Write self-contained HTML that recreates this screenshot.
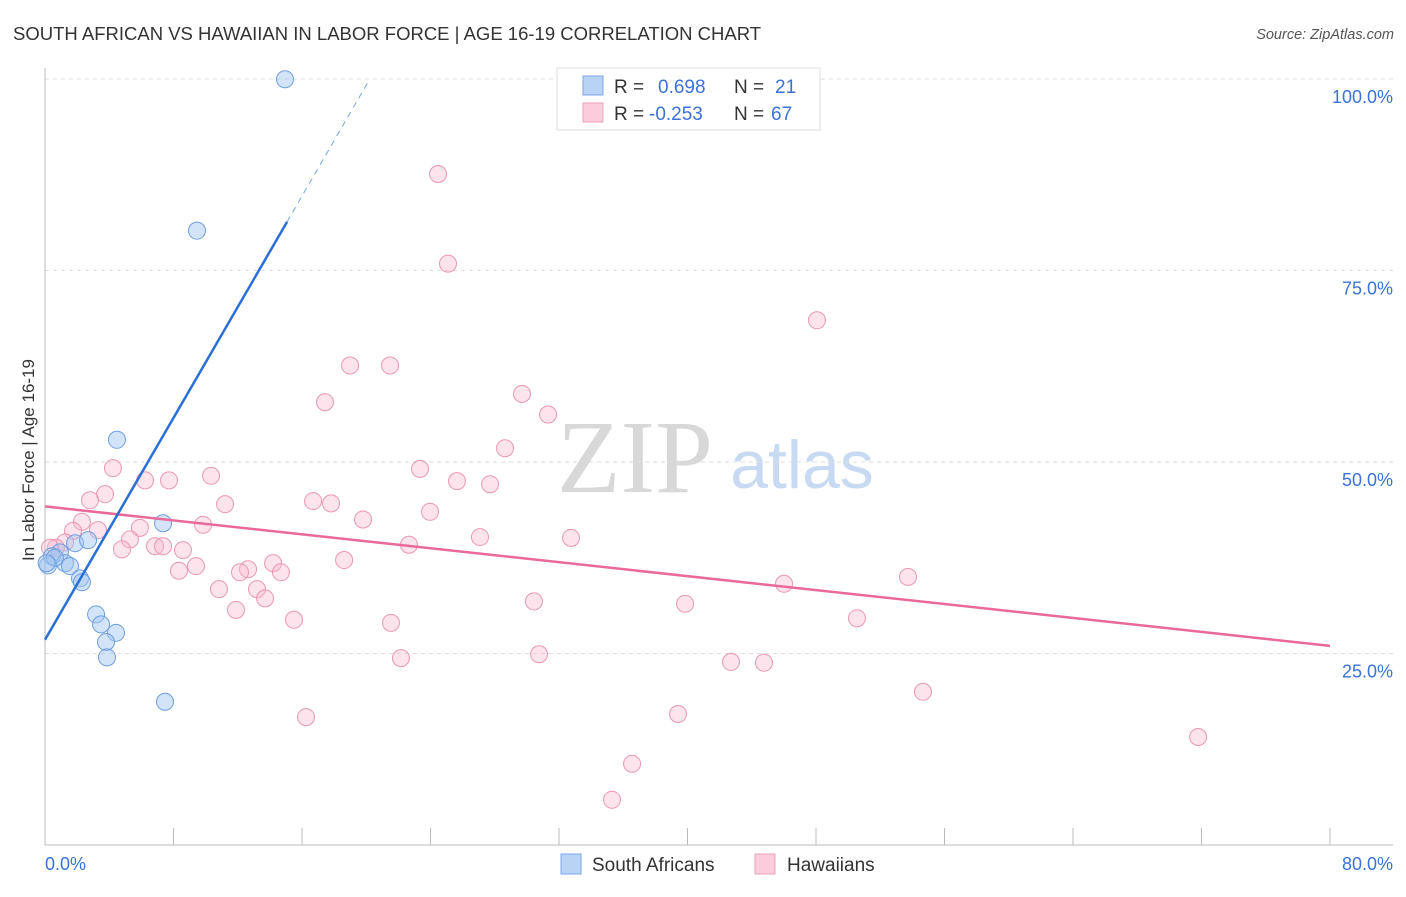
<!DOCTYPE html>
<html><head><meta charset="utf-8"><style>
body{margin:0;background:#fff;font-family:"Liberation Sans",sans-serif}
svg text{font-family:"Liberation Sans",sans-serif}
</style></head><body>
<svg id="chart" width="1406" height="892" xmlns="http://www.w3.org/2000/svg">
<text x="13" y="40" font-size="18.5" fill="#333">SOUTH AFRICAN VS HAWAIIAN IN LABOR FORCE | AGE 16-19 CORRELATION CHART</text>
<text x="1394" y="39" font-size="14.5" fill="#555" text-anchor="end" font-style="italic">Source: ZipAtlas.com</text>
<text x="34" y="460" font-size="17" fill="#333" text-anchor="middle" transform="rotate(-90 34 460)">In Labor Force | Age 16-19</text>
<g>
<text x="635" y="492" font-size="104" fill="#d8d8d8" text-anchor="middle" font-family="Liberation Serif" style="font-family:'Liberation Serif',serif">ZIP</text>
<text x="802" y="488" font-size="68" fill="#c8daf2" text-anchor="middle">atlas</text>
</g>
<g id="grid"></g><g id="axes"></g><g id="pts"></g><g id="trends"></g>
<g>
<rect x="557" y="68" width="263" height="62" fill="#fff" stroke="#ddd"/>
<rect x="583" y="76" width="20" height="19" fill="#b9d3f5" stroke="#7aa6e6"/>
<rect x="583" y="103" width="20" height="19" fill="#fbccdc" stroke="#eea0bb"/>
<text x="614" y="93" font-size="19" fill="#333">R = </text><text x="658" y="93" font-size="19" fill="#3a72d8">0.698</text>
<text x="734" y="93" font-size="19" fill="#333">N = </text><text x="775" y="93" font-size="19" fill="#3a72d8">21</text>
<text x="614" y="120" font-size="19" fill="#333">R = </text><text x="649" y="120" font-size="19" fill="#3a72d8">-0.253</text>
<text x="734" y="120" font-size="19" fill="#333">N = </text><text x="771" y="120" font-size="19" fill="#3a72d8">67</text>
</g>
<g>
<rect x="561" y="854" width="20" height="20" fill="#b9d3f5" stroke="#7aa6e6"/>
<text x="592" y="871" font-size="19" fill="#333">South Africans</text>
<rect x="755" y="854" width="20" height="20" fill="#fbccdc" stroke="#eea0bb"/>
<text x="787" y="871" font-size="19" fill="#333">Hawaiians</text>
</g>
</svg>
<script>
const yTicks=[25,50,75,100];
const yTickLabels=["25.0%","50.0%","75.0%","100.0%"];
const xTickLabels=["0.0%","80.0%"];
const blueX=[14.94,9.46,4.48,7.35,1.87,2.68,0.93,0.44,1.25,1.56,2.18,2.30,3.18,3.49,4.42,3.80,3.86,7.47,0.19,0.62,0.1];
const blueY=[99.97,80.2,52.9,42.0,39.4,39.8,38.2,37.7,36.8,36.4,34.8,34.3,30.1,28.8,27.7,26.5,24.5,18.7,36.5,37.5,36.8];
const pinkX=[24.47,25.09,48.06,18.99,21.48,17.43,29.70,31.32,28.64,23.35,25.65,27.71,10.34,4.23,6.23,7.72,2.80,3.74,11.21,16.69,17.81,19.80,23.97,27.08,32.75,22.66,2.30,1.74,3.30,5.91,5.29,9.84,1.25,0.68,4.79,6.85,7.35,8.59,18.62,14.20,12.64,12.14,14.69,8.34,9.40,10.83,13.20,13.70,11.89,46.01,53.73,39.85,30.44,50.55,15.50,21.54,30.76,22.16,42.71,44.76,54.66,16.25,39.41,71.79,36.55,35.30,0.31];
const pinkY=[87.6,75.9,68.5,62.6,62.6,57.8,58.9,56.2,51.8,49.1,47.5,47.1,48.2,49.2,47.6,47.6,45.0,45.8,44.5,44.9,44.6,42.5,43.5,40.2,40.1,39.2,42.2,41.0,41.1,41.4,39.9,41.8,39.5,38.8,38.6,39.0,39.0,38.5,37.2,36.8,36.0,35.6,35.6,35.8,36.4,33.4,33.4,32.2,30.7,34.1,35.0,31.5,31.8,29.6,29.4,29.0,24.9,24.4,23.9,23.8,20.0,16.7,17.1,14.1,10.6,5.9,38.8];
const blueTrend=[26.8,3.62]; // intercept, slope
const pinkTrend=[44.2,-0.2275];
const NS="http://www.w3.org/2000/svg";
const X=v=>45+v*(1285/80), Y=v=>845-v*(766/100);
function mk(t,a,p){const e=document.createElementNS(NS,t);for(const k in a)e.setAttribute(k,a[k]);p.appendChild(e);return e;}
const grid=document.getElementById('grid'),axes=document.getElementById('axes'),pts=document.getElementById('pts'),tr=document.getElementById('trends');
yTicks.forEach((t,i)=>{
 const l=mk('line',{x1:45,x2:1393,y1:Y(t),y2:Y(t),stroke:'#ddd','stroke-dasharray':'4,4'},grid);
 
 
 const tx=mk('text',{x:1393,y:Y(t)+24,'font-size':18,fill:'#3a72d8','text-anchor':'end'},axes);tx.textContent=yTickLabels[i];
 
 
});
mk('line',{x1:45,x2:45,y1:68,y2:845,stroke:'#bbb'},axes);
mk('line',{x1:45,x2:1393,y1:845,y2:845,stroke:'#bbb'},axes);
for(let i=0;i<=10;i++){const t=mk('line',{x1:X(i*8),x2:X(i*8),y1:828,y2:845,stroke:'#bbb'},axes);
 
 }
[[0,'start',45],[80,'end',1393]].forEach((d,i)=>{const t=mk('text',{x:d[2],y:870,'font-size':18,fill:'#3a72d8','text-anchor':d[1]},axes);t.textContent=xTickLabels[i];
 
 });
pinkX.forEach((x,i)=>{const c=mk('circle',{cx:X(x),cy:Y(pinkY[i]),r:8.5,fill:'rgba(248,185,208,0.4)',stroke:'#eb97b5','stroke-width':1},pts);
 
 });
blueX.forEach((x,i)=>{const c=mk('circle',{cx:X(x),cy:Y(blueY[i]),r:8.5,fill:'rgba(160,196,240,0.45)',stroke:'#6f9fe2','stroke-width':1},pts);
 
 });
const pl=mk('line',{x1:X(0),y1:Y(pinkTrend[0]),x2:X(80),y2:Y(pinkTrend[0]+80*pinkTrend[1]),stroke:'#e8699a','stroke-width':2.5},tr);


const xs=15.07,xe=(100-blueTrend[0])/blueTrend[1];
const bl=mk('line',{x1:X(0),y1:Y(blueTrend[0]),x2:X(xs),y2:Y(blueTrend[0]+xs*blueTrend[1]),stroke:'#2a6fd6','stroke-width':2.5},tr);


const bd=mk('line',{x1:X(xs),y1:Y(blueTrend[0]+xs*blueTrend[1]),x2:X(xe),y2:Y(100),stroke:'#7aa6e6','stroke-width':1,'stroke-dasharray':'6,5'},tr);


</script>
</body></html>
